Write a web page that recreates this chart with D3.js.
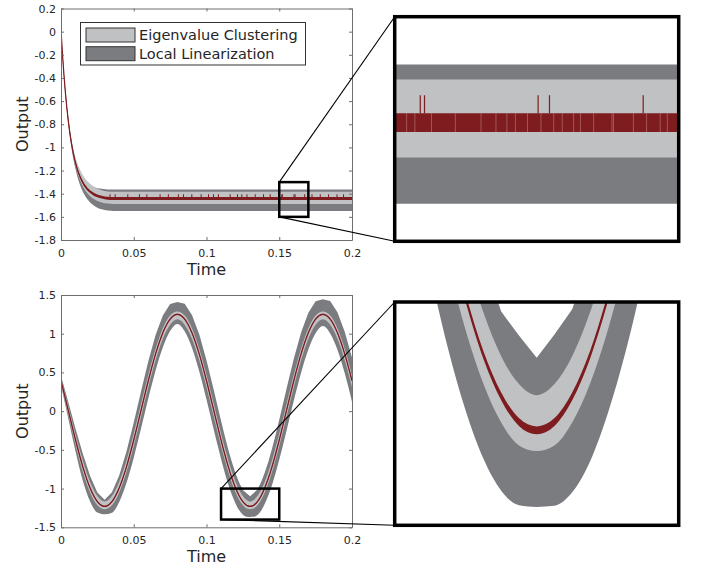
<!DOCTYPE html>
<html>
<head>
<meta charset="utf-8">
<script src="https://cdn.jsdelivr.net/npm/d3@7"></script>
<style>
body { margin: 0; background: #fff; }
text { font-family: "DejaVu Sans", sans-serif; fill: #262626; }
</style>
</head>
<body>
<script>
// ---- step response (top) ----
var topTime = [0, 0.001, 0.002, 0.003, 0.004, 0.005, 0.006, 0.007, 0.008, 0.009, 0.010, 0.012, 0.014, 0.016, 0.018, 0.020, 0.022, 0.025, 0.028, 0.032, 0.036, 0.2];
var topMid = [0.02, -0.19, -0.37, -0.524, -0.656, -0.769, -0.866, -0.949, -1.021, -1.082, -1.134, -1.218, -1.279, -1.325, -1.358, -1.382, -1.400, -1.419, -1.430, -1.439, -1.4415, -1.4415];
var topDarkHi = [0.025, -0.18, -0.355, -0.506, -0.636, -0.744, -0.838, -0.919, -0.996, -1.054, -1.104, -1.183, -1.239, -1.280, -1.308, -1.327, -1.340, -1.353, -1.358, -1.363, -1.364, -1.364];
var topDarkLo = [0.015, -0.20, -0.385, -0.544, -0.681, -0.799, -0.901, -0.989, -1.066, -1.132, -1.189, -1.283, -1.354, -1.407, -1.446, -1.475, -1.497, -1.521, -1.535, -1.546, -1.550, -1.550];
var topLightHi = [0.023, -0.184, -0.361, -0.513, -0.643, -0.753, -0.848, -0.929, -0.986, -1.042, -1.089, -1.163, -1.217, -1.259, -1.290, -1.314, -1.334, -1.357, -1.370, -1.381, -1.384, -1.384];
var topLightLo = [0.017, -0.196, -0.379, -0.535, -0.669, -0.784, -0.883, -0.968, -1.042, -1.105, -1.159, -1.246, -1.310, -1.359, -1.395, -1.422, -1.442, -1.463, -1.475, -1.485, -1.488, -1.488];
var topSpikeTimes = [0.0337, 0.0372, 0.0459, 0.0539, 0.059, 0.0681, 0.0738, 0.0807, 0.0842, 0.0899, 0.0963, 0.1014, 0.1048, 0.1082, 0.1163, 0.1213, 0.1243, 0.1278, 0.1335, 0.1392, 0.1438, 0.1518, 0.1521, 0.1601, 0.1609, 0.1675, 0.1725, 0.1782, 0.1839, 0.1897, 0.1942];
var topSpikeRange = [-1.429, -1.405];
var topGapTimes = [0.15084, 0.15142, 0.15259, 0.15427, 0.15608, 0.15713, 0.1579, 0.1585, 0.15935, 0.1603, 0.1612, 0.1618, 0.1626, 0.16308, 0.16401, 0.16541, 0.1653, 0.16681, 0.16774, 0.1687, 0.1692];

// ---- sine tracking (bottom) ----
var sineTime = [0, 0.005, 0.01, 0.015, 0.02, 0.025, 0.03, 0.035, 0.04, 0.045, 0.05, 0.055, 0.06, 0.065, 0.07, 0.075, 0.08, 0.085, 0.09, 0.095, 0.1,
  0.105, 0.1075, 0.11, 0.1125, 0.115, 0.1175, 0.12, 0.1225, 0.125, 0.1275, 0.13, 0.1325, 0.135, 0.1375, 0.14, 0.1425, 0.145, 0.1475, 0.15, 0.1525, 0.155,
  0.16, 0.165, 0.17, 0.175, 0.18, 0.185, 0.19, 0.195, 0.2];
var sineMid = [0.393, 0.01, -0.373, -0.719, -0.993, -1.169, -1.23, -1.169, -0.993, -0.719, -0.373, 0.01, 0.393, 0.739, 1.013, 1.189, 1.25, 1.189, 1.013, 0.739, 0.393,
  0.01, -0.183, -0.373, -0.553, -0.719, -0.867, -0.993, -1.095, -1.169, -1.215, -1.23, -1.215, -1.169, -1.095, -0.993, -0.867, -0.719, -0.553, -0.373, -0.183, 0.01,
  0.393, 0.739, 1.013, 1.189, 1.25, 1.189, 1.013, 0.739, 0.393];
var sineDarkHi = [0.456, 0.119, -0.227, -0.551, -0.839, -1.052, -1.145, -1.048, -0.832, -0.521, -0.146, 0.254, 0.643, 0.982, 1.236, 1.385, 1.41, 1.388, 1.243, 0.992, 0.657,
  0.272, 0.073, -0.125, -0.317, -0.497, -0.661, -0.804, -0.924, -1.017, -1.06, -1.10, -1.058, -1.013, -0.918, -0.797, -0.652, -0.486, -0.305, -0.111, 0.088, 0.289,
  0.678, 1.017, 1.271, 1.42, 1.445, 1.423, 1.278, 1.027, 0.692];
var sineDarkLo = [0.334, -0.096, -0.522, -0.900, -1.167, -1.310, -1.333, -1.313, -1.172, -0.928, -0.601, -0.225, 0.162, 0.525, 0.825, 1.034, 1.127, 1.031, 0.820, 0.516, 0.151,
  -0.239, -0.431, -0.618, -0.791, -0.947, -1.083, -1.195, -1.281, -1.338, -1.364, -1.367, -1.365, -1.341, -1.286, -1.200, -1.090, -0.956, -0.800, -0.629, -0.444, -0.253,
  0.134, 0.497, 0.797, 1.006, 1.099, 1.003, 0.792, 0.488, 0.123];
var sineLightHi = [0.434, 0.068, -0.301, -0.636, -0.914, -1.097, -1.167, -1.097, -0.914, -0.636, -0.289, 0.091, 0.469, 0.806, 1.071, 1.236, 1.287, 1.236, 1.071, 0.806, 0.469,
  0.091, -0.100, -0.289, -0.469, -0.636, -0.786, -0.914, -1.019, -1.097, -1.147, -1.167, -1.147, -1.097, -1.019, -0.914, -0.786, -0.636, -0.469, -0.289, -0.100, 0.091,
  0.469, 0.806, 1.071, 1.236, 1.287, 1.236, 1.071, 0.806, 0.469];
var sineLightLo = [0.344, -0.048, -0.437, -0.786, -1.051, -1.216, -1.267, -1.216, -1.051, -0.786, -0.449, -0.071, 0.309, 0.656, 0.935, 1.117, 1.187, 1.117, 0.935, 0.656, 0.309,
  -0.071, -0.262, -0.449, -0.625, -0.786, -0.930, -1.051, -1.147, -1.216, -1.257, -1.267, -1.257, -1.216, -1.147, -1.051, -0.930, -0.786, -0.625, -0.449, -0.262, -0.071,
  0.309, 0.656, 0.935, 1.117, 1.187, 1.117, 0.935, 0.656, 0.309];

// ticks and zoom windows
var timeTicks = [0, 0.05, 0.1, 0.15, 0.2];
var topYTicks = [-1.8, -1.6, -1.4, -1.2, -1, -0.8, -0.6, -0.4, -0.2, 0, 0.2];
var sineYTicks = [-1.5, -1, -0.5, 0, 0.5, 1, 1.5];
var topZoomX = [0.15, 0.17], topZoomY = [-1.6, -1.3];
var sineZoomX = [0.11, 0.15], sineZoomY = [-1.4, -1.0];
var legendNames = ["Eigenvalue Clustering", "Local Linearization"];

var darkGray = "#7b7c80", lightGray = "#c0c1c3", darkRed = "#7e1c1f";
// half thickness of the quantised output trace in each plot
var topRedHalf = 0.0125, sineRedHalf = 0.007;

var svg = d3.select("body").append("svg")
  .attr("width", 701)
  .attr("height", 566);

var fmt = function(d) { return String(+d.toFixed(2)); };

function addClip(id, x, y) {
  svg.append("clipPath").attr("id", id)
    .append("rect")
    .attr("x", x.range()[0])
    .attr("y", y.range()[1])
    .attr("width", x.range()[1] - x.range()[0])
    .attr("height", y.range()[0] - y.range()[1]);
}

function drawBands(g, x, y, time, mid, darkHi, darkLo, lightHi, lightLo, half, lw) {
  var idx = d3.range(time.length);
  var px = function(i) { return x(time[i]); };
  // dark band: lower edge smooth, upper edge straight segments (keeps the sharp inner V)
  var loEdge = d3.line().x(px).y(function(i) { return y(darkLo[i]); }).curve(d3.curveMonotoneX)(idx);
  var hiEdge = d3.line().x(px).y(function(i) { return y(darkHi[i]); })(idx.slice().reverse());
  g.append("path")
    .attr("fill", darkGray)
    .attr("d", loEdge + "L" + hiEdge.slice(1) + "Z");
  g.append("path").datum(idx)
    .attr("fill", lightGray)
    .attr("d", d3.area().x(px).y0(function(i) { return y(lightLo[i]); }).y1(function(i) { return y(lightHi[i]); }).curve(d3.curveMonotoneX));
  g.append("path").datum(idx)
    .attr("fill", darkRed)
    .attr("d", d3.area().x(px).y0(function(i) { return y(mid[i] - half); }).y1(function(i) { return y(mid[i] + half); }).curve(d3.curveMonotoneX));
  g.append("path").datum(idx)
    .attr("fill", "none")
    .attr("stroke", darkRed)
    .attr("stroke-width", lw)
    .attr("d", d3.line().x(px).y(function(i) { return y(mid[i]); }).curve(d3.curveMonotoneX));
}

function drawSpikes(g, x, y, lw) {
  g.selectAll(null).data(topSpikeTimes).enter().append("line")
    .attr("x1", function(d) { return x(d); })
    .attr("x2", function(d) { return x(d); })
    .attr("y1", y(topSpikeRange[0]))
    .attr("y2", y(topSpikeRange[1]))
    .attr("stroke", darkRed)
    .attr("stroke-width", lw);
}

function drawAxes(x, y, yTicks, yLabelX) {
  var g = svg.append("g");
  var x0 = x.range()[0], x1 = x.range()[1], y0 = y.range()[0], y1 = y.range()[1];
  g.append("g").attr("transform", "translate(0," + y0 + ")")
    .call(d3.axisBottom(x).tickValues(timeTicks).tickSizeInner(-3).tickSizeOuter(0).tickPadding(9).tickFormat(fmt));
  g.append("g").attr("transform", "translate(0," + y1 + ")")
    .call(d3.axisTop(x).tickValues(timeTicks).tickSizeInner(-3).tickSizeOuter(0).tickFormat(""));
  g.append("g").attr("transform", "translate(" + x0 + ",0)")
    .call(d3.axisLeft(y).tickValues(yTicks).tickSizeInner(-3).tickSizeOuter(0).tickPadding(5).tickFormat(fmt));
  g.append("g").attr("transform", "translate(" + x1 + ",0)")
    .call(d3.axisRight(y).tickValues(yTicks).tickSizeInner(-3).tickSizeOuter(0).tickFormat(""));
  g.selectAll(".domain, .tick line").attr("stroke", "#6e6e6e");
  g.selectAll(".tick text").attr("font-size", 11).attr("font-family", "DejaVu Sans").attr("fill", "#262626");

  g.append("text")
    .attr("x", (x0 + x1) / 2)
    .attr("y", y0 + 35)
    .attr("text-anchor", "middle")
    .attr("font-size", 16)
    .text("Time");
  g.append("text")
    .attr("transform", "translate(" + yLabelX + "," + ((y0 + y1) / 2) + ") rotate(-90)")
    .attr("text-anchor", "middle")
    .attr("font-size", 16)
    .text("Output");
}

// scales
var xTop = d3.scaleLinear().domain([0, 0.2]).range([61, 352]);
var yTop = d3.scaleLinear().domain([-1.8, 0.2]).range([240, 8.5]);
var xTopZ = d3.scaleLinear().domain(topZoomX).range([394.7, 678.7]);
var yTopZ = d3.scaleLinear().domain(topZoomY).range([241.3, 16.7]);
var xBot = d3.scaleLinear().domain([0, 0.2]).range([61, 352]);
var yBot = d3.scaleLinear().domain([-1.5, 1.5]).range([527.3, 295]);
var xBotZ = d3.scaleLinear().domain(sineZoomX).range([394.7, 678.7]);
var yBotZ = d3.scaleLinear().domain(sineZoomY).range([525.3, 302]);

addClip("clipTop", xTop, yTop);
addClip("clipTopZ", xTopZ, yTopZ);
addClip("clipBot", xBot, yBot);
addClip("clipBotZ", xBotZ, yBotZ);

// top main
var gTop = svg.append("g").attr("clip-path", "url(#clipTop)");
drawBands(gTop, xTop, yTop, topTime, topMid, topDarkHi, topDarkLo, topLightHi, topLightLo, topRedHalf, 1.2);
drawSpikes(gTop, xTop, yTop, 1);
drawAxes(xTop, yTop, topYTicks, 27.5);

// legend
var leg = svg.append("g");
leg.append("rect")
  .attr("x", 80.5).attr("y", 22.5)
  .attr("width", 225).attr("height", 42.5)
  .attr("fill", "#fff").attr("stroke", "#333").attr("stroke-width", 1);
leg.selectAll(".patch").data(legendNames).enter().append("rect")
  .attr("x", 86)
  .attr("y", function(d, i) { return 28 + i * 18.7; })
  .attr("width", 49).attr("height", 14)
  .attr("fill", function(d, i) { return i === 0 ? lightGray : darkGray; })
  .attr("stroke", "#333").attr("stroke-width", 1);
leg.selectAll(".lab").data(legendNames).enter().append("text")
  .attr("x", 139)
  .attr("y", function(d, i) { return 40 + i * 18.7; })
  .attr("font-size", 14.5)
  .text(function(d) { return d; });

// top zoom
var gTopZ = svg.append("g").attr("clip-path", "url(#clipTopZ)");
drawBands(gTopZ, xTopZ, yTopZ, topTime, topMid, topDarkHi, topDarkLo, topLightHi, topLightLo, topRedHalf, 1.2);
gTopZ.selectAll(null).data(topGapTimes).enter().append("line")
  .attr("x1", function(d) { return xTopZ(d); })
  .attr("x2", function(d) { return xTopZ(d); })
  .attr("y1", yTopZ(topMid[topMid.length - 1] + topRedHalf))
  .attr("y2", yTopZ(topMid[topMid.length - 1] - topRedHalf))
  .attr("stroke", "#e8c4c5")
  .attr("stroke-opacity", 0.35)
  .attr("stroke-width", 1);
drawSpikes(gTopZ, xTopZ, yTopZ, 1.2);

// bottom main
var gBot = svg.append("g").attr("clip-path", "url(#clipBot)");
drawBands(gBot, xBot, yBot, sineTime, sineMid, sineDarkHi, sineDarkLo, sineLightHi, sineLightLo, sineRedHalf, 1.3);
drawAxes(xBot, yBot, sineYTicks, 27.5);

// bottom zoom
var gBotZ = svg.append("g").attr("clip-path", "url(#clipBotZ)");
drawBands(gBotZ, xBotZ, yBotZ, sineTime, sineMid, sineDarkHi, sineDarkLo, sineLightHi, sineLightLo, sineRedHalf, 1.2);

// zoom boxes, frames and connectors
function zoomLinks(x, y, xz, yz, zx, zy) {
  var bx0 = x(zx[0]), bx1 = x(zx[1]), by0 = y(zy[1]), by1 = y(zy[0]);
  var fx0 = xz.range()[0], fx1 = xz.range()[1], fy0 = yz.range()[1], fy1 = yz.range()[0];
  svg.append("line").attr("x1", bx0).attr("y1", by0).attr("x2", fx0).attr("y2", fy0)
    .attr("stroke", "#000").attr("stroke-width", 1.1);
  svg.append("line").attr("x1", bx0).attr("y1", by1).attr("x2", fx0).attr("y2", fy1)
    .attr("stroke", "#000").attr("stroke-width", 1.1);
  svg.append("rect").attr("x", bx0).attr("y", by0)
    .attr("width", bx1 - bx0).attr("height", by1 - by0)
    .attr("fill", "none").attr("stroke", "#000").attr("stroke-width", 2.5);
  svg.append("rect").attr("x", fx0).attr("y", fy0)
    .attr("width", fx1 - fx0).attr("height", fy1 - fy0)
    .attr("fill", "none").attr("stroke", "#000").attr("stroke-width", 3.5);
}
zoomLinks(xTop, yTop, xTopZ, yTopZ, topZoomX, topZoomY);
zoomLinks(xBot, yBot, xBotZ, yBotZ, sineZoomX, sineZoomY);
</script>
</body>
</html>
